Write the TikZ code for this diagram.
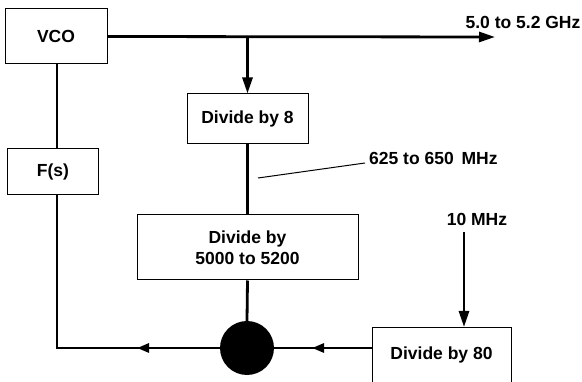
\documentclass[tikz,border=0pt]{standalone}
\usepackage{fontspec}
\setmainfont{Liberation Sans}
\usetikzlibrary{arrows.meta,decorations.markings}
\begin{document}
\begin{tikzpicture}[x=1pt,y=-1pt,
  blk/.style={draw,line width=1pt,rectangle,inner sep=0pt,font=\fontsize{17.5}{21}\selectfont\bfseries,align=center},
  wire/.style={line width=2.8pt},
  arr/.style={wire,-{Triangle[length=16pt,width=10pt]}},
  lbl/.style={font=\fontsize{17.5}{21}\selectfont\bfseries,inner sep=0pt}]
\useasboundingbox (0,0) rectangle (582,382);
\clip (0,0) rectangle (582,382);
% blocks
\node[blk,minimum width=102pt,minimum height=55pt] (vco) at (56,36.5) {VCO};
\node[blk,minimum width=121pt,minimum height=50pt] (d8) at (247.5,119) {Divide by 8};
\node[blk,minimum width=221pt,minimum height=65pt] (d5000) at (247.5,247.5) {Divide by\\5000 to 5200};
\node[blk,minimum width=91pt,minimum height=46pt] (fs) at (53,172) {F(s)};
\node[blk,minimum width=139pt,minimum height=57pt,anchor=north] (d80) at (441.5,327) {};
\node[lbl] (d80t) at (441.5,355) {Divide by 80};
\node[circle,fill=black,minimum size=54pt,inner sep=0pt] (pd) at (247,348) {};
% labels
\node[lbl] (out) at (523,22) {5.0 to 5.2 GHz};
\node[lbl,anchor=west] (mid) at (369,158) {625 to 650 \,MHz};
\node[lbl] (ref) at (477,219) {10 MHz};
% helper coordinates
\coordinate (lx) at (57,0);
\coordinate (outend) at (495,37);
\coordinate (t10) at (464,232);
\coordinate (m1) at (258,178);
\coordinate (m2) at (365,163);
\coordinate (a1) at (312,348);
\coordinate (a2) at (137,348);
% connectors
\draw[arr] (vco.east) -- (outend);
\draw[arr] (d8.north |- vco.east) -- (d8.north);
\draw[wire] (d8.south) -- (d5000.north);
\draw[wire] (d5000.south) -- (pd.north);
\draw[wire] (vco.south -| lx) -- (fs.north -| lx);
\draw[wire] (pd.west) -| (fs.south -| lx);
\draw[arr,-{Triangle[length=12pt,width=9pt]}] (pd.west) -- (a2);
\draw[wire] (d80.west |- pd) -- (pd.east);
\draw[arr,-{Triangle[length=12pt,width=9pt]}] (d80.west |- pd) -- (a1);
\draw[arr] (t10) -- (t10 |- d80.north);
\draw[line width=1pt] (m1) -- (m2);
\end{tikzpicture}
\end{document}
